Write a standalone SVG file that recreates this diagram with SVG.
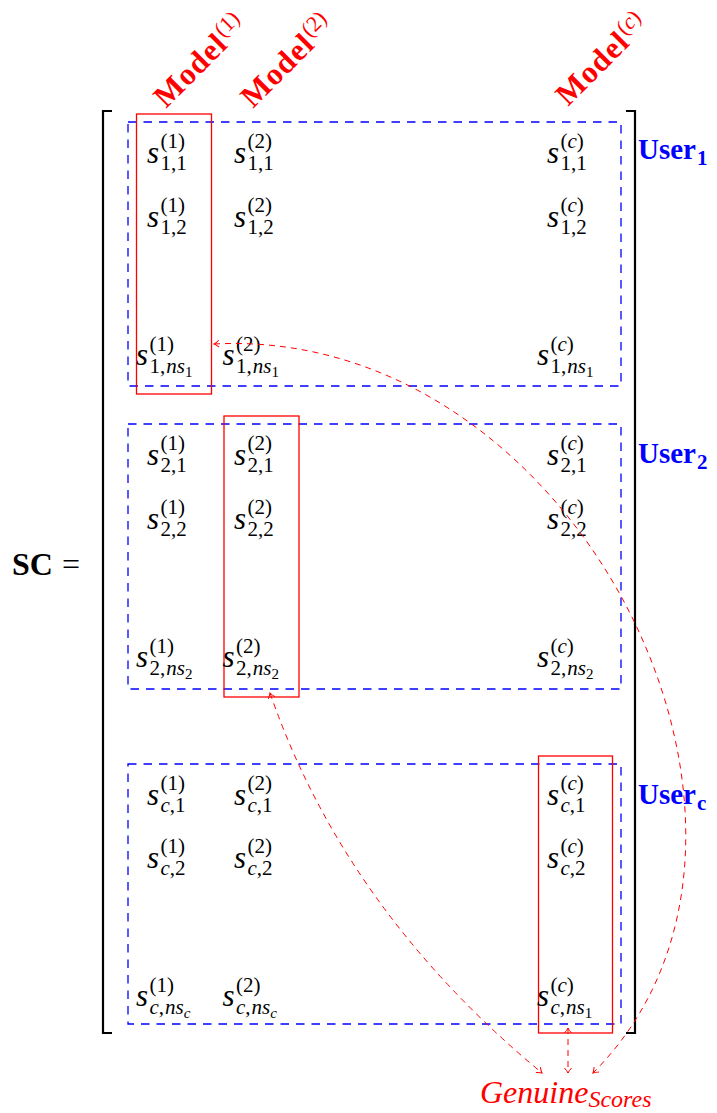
<svg xmlns="http://www.w3.org/2000/svg" width="717" height="1113" viewBox="0 0 717 1113">
<style>
.s{font:italic 31px 'Liberation Serif',serif;fill:#000}
.sc{font:21px 'Liberation Serif',serif;fill:#000}
.i{font-style:italic}
.ss{font-size:15px}
.ub{font:bold 29px 'Liberation Serif',serif;fill:#0000ff}
.ubs{font-size:21px}
.mb{font:bold 31px 'Liberation Serif',serif;fill:#ff0000;letter-spacing:1px}
.ms{font-size:22px;font-weight:normal;letter-spacing:0}
.blue{fill:none;stroke:#0000ff;stroke-width:1.3;stroke-dasharray:8.5 7}
.red{fill:none;stroke:#ff0000;stroke-width:1.3}
.conn{fill:none;stroke:#ff0000;stroke-width:1;stroke-dasharray:6 5}
.br{fill:none;stroke:#000;stroke-width:2.2}
</style>
<defs>
<marker id="ah" viewBox="-7 -5 9 10" markerWidth="9" markerHeight="10" refX="0" refY="0" orient="auto-start-reverse" markerUnits="userSpaceOnUse">
<path d="M-5,-3.5 Q-2,-0.8 0,0 Q-2,0.8 -5,3.5" fill="none" stroke="#ff0000" stroke-width="1" stroke-dasharray="none"/>
</marker>
</defs>
<rect width="717" height="1113" fill="#fff"/>

<g id="sc-label">
<text x="12" y="575" style="font:bold 32px 'Liberation Serif',serif">SC</text>
<text x="62" y="575" style="font:32px 'Liberation Serif',serif">=</text>
</g>

<g id="bracket">
<path class="br" d="M112,111 H103 V1033 H112"/>
<path class="br" d="M626,111 H635 V1033 H626"/>
</g>

<g id="user-boxes">
<rect id="box-user1" class="blue" x="128" y="122" width="493" height="264"/>
<rect id="box-user2" class="blue" x="128" y="424" width="493" height="265"/>
<rect id="box-userc" class="blue" x="128" y="764" width="493" height="260"/>
</g>

<g id="model-boxes">
<rect id="box-model1" class="red" x="136.5" y="114" width="75" height="280"/>
<rect id="box-model2" class="red" x="224" y="416" width="75" height="281"/>
<rect id="box-modelc" class="red" x="538.5" y="756" width="74" height="277"/>
</g>

<g id="model-labels">
<text transform="translate(166,109) rotate(-45)" class="mb">Model<tspan class="ms" dx="1" dy="-10">(1)</tspan></text>
<text transform="translate(253,109) rotate(-45)" class="mb">Model<tspan class="ms" dx="1" dy="-10">(2)</tspan></text>
<text transform="translate(568,107) rotate(-45)" class="mb">Model<tspan class="ms" dx="1" dy="-10">(<tspan class="i">c</tspan>)</tspan></text>
</g>

<g id="user-labels">
<text x="638" y="159" class="ub">User<tspan class="ubs" dx="1" dy="6">1</tspan></text>
<text x="638" y="463" class="ub">User<tspan class="ubs" dx="1" dy="6">2</tspan></text>
<text x="638" y="804" class="ub">User<tspan class="ubs" dx="1" dy="6">c</tspan></text>
</g>

<g id="entries-user1">
<g id="e-1-1-1"><text class="s" x="147" y="163">s</text><text class="sc" x="160.5" y="148">(1)</text><text class="sc" x="160.5" y="170">1,1</text></g>
<g id="e-1-1-2"><text class="s" x="234" y="163">s</text><text class="sc" x="247.5" y="148">(2)</text><text class="sc" x="247.5" y="170">1,1</text></g>
<g id="e-1-1-c"><text class="s" x="547" y="163">s</text><text class="sc" x="560.5" y="148">(<tspan class="i">c</tspan>)</text><text class="sc" x="560.5" y="170">1,1</text></g>
<g id="e-1-2-1"><text class="s" x="147" y="227">s</text><text class="sc" x="160.5" y="212">(1)</text><text class="sc" x="160.5" y="234">1,2</text></g>
<g id="e-1-2-2"><text class="s" x="234" y="227">s</text><text class="sc" x="247.5" y="212">(2)</text><text class="sc" x="247.5" y="234">1,2</text></g>
<g id="e-1-2-c"><text class="s" x="547" y="227">s</text><text class="sc" x="560.5" y="212">(<tspan class="i">c</tspan>)</text><text class="sc" x="560.5" y="234">1,2</text></g>
<g id="e-1-n-1"><text class="s" x="136" y="365">s</text><text class="sc" x="149.5" y="351">(1)</text><text class="sc" x="149.5" y="373">1,<tspan class="i" dx="1">ns</tspan><tspan class="ss" dy="4">1</tspan></text></g>
<g id="e-1-n-2"><text class="s" x="222.5" y="365">s</text><text class="sc" x="236" y="351">(2)</text><text class="sc" x="236" y="373">1,<tspan class="i" dx="1">ns</tspan><tspan class="ss" dy="4">1</tspan></text></g>
<g id="e-1-n-c"><text class="s" x="537" y="365">s</text><text class="sc" x="550.5" y="351">(<tspan class="i">c</tspan>)</text><text class="sc" x="550.5" y="373">1,<tspan class="i" dx="1">ns</tspan><tspan class="ss" dy="4">1</tspan></text></g>
</g>

<g id="entries-user2">
<g id="e-2-1-1"><text class="s" x="147" y="465">s</text><text class="sc" x="160.5" y="450">(1)</text><text class="sc" x="160.5" y="472">2,1</text></g>
<g id="e-2-1-2"><text class="s" x="234" y="465">s</text><text class="sc" x="247.5" y="450">(2)</text><text class="sc" x="247.5" y="472">2,1</text></g>
<g id="e-2-1-c"><text class="s" x="547" y="465">s</text><text class="sc" x="560.5" y="450">(<tspan class="i">c</tspan>)</text><text class="sc" x="560.5" y="472">2,1</text></g>
<g id="e-2-2-1"><text class="s" x="147" y="529">s</text><text class="sc" x="160.5" y="514">(1)</text><text class="sc" x="160.5" y="536">2,2</text></g>
<g id="e-2-2-2"><text class="s" x="234" y="529">s</text><text class="sc" x="247.5" y="514">(2)</text><text class="sc" x="247.5" y="536">2,2</text></g>
<g id="e-2-2-c"><text class="s" x="547" y="529">s</text><text class="sc" x="560.5" y="514">(<tspan class="i">c</tspan>)</text><text class="sc" x="560.5" y="536">2,2</text></g>
<g id="e-2-n-1"><text class="s" x="136" y="667">s</text><text class="sc" x="149.5" y="653">(1)</text><text class="sc" x="149.5" y="675">2,<tspan class="i" dx="1">ns</tspan><tspan class="ss" dy="4">2</tspan></text></g>
<g id="e-2-n-2"><text class="s" x="222.5" y="667">s</text><text class="sc" x="236" y="653">(2)</text><text class="sc" x="236" y="675">2,<tspan class="i" dx="1">ns</tspan><tspan class="ss" dy="4">2</tspan></text></g>
<g id="e-2-n-c"><text class="s" x="537" y="667">s</text><text class="sc" x="550.5" y="653">(<tspan class="i">c</tspan>)</text><text class="sc" x="550.5" y="675">2,<tspan class="i" dx="1">ns</tspan><tspan class="ss" dy="4">2</tspan></text></g>
</g>

<g id="entries-userc">
<g id="e-c-1-1"><text class="s" x="147" y="805">s</text><text class="sc" x="160.5" y="790">(1)</text><text class="sc" x="160.5" y="812"><tspan class="i">c</tspan>,1</text></g>
<g id="e-c-1-2"><text class="s" x="234" y="805">s</text><text class="sc" x="247.5" y="790">(2)</text><text class="sc" x="247.5" y="812"><tspan class="i">c</tspan>,1</text></g>
<g id="e-c-1-c"><text class="s" x="547" y="805">s</text><text class="sc" x="560.5" y="790">(<tspan class="i">c</tspan>)</text><text class="sc" x="560.5" y="812"><tspan class="i">c</tspan>,1</text></g>
<g id="e-c-2-1"><text class="s" x="147" y="868">s</text><text class="sc" x="160.5" y="853">(1)</text><text class="sc" x="160.5" y="875"><tspan class="i">c</tspan>,2</text></g>
<g id="e-c-2-2"><text class="s" x="234" y="868">s</text><text class="sc" x="247.5" y="853">(2)</text><text class="sc" x="247.5" y="875"><tspan class="i">c</tspan>,2</text></g>
<g id="e-c-2-c"><text class="s" x="547" y="868">s</text><text class="sc" x="560.5" y="853">(<tspan class="i">c</tspan>)</text><text class="sc" x="560.5" y="875"><tspan class="i">c</tspan>,2</text></g>
<g id="e-c-n-1"><text class="s" x="136" y="1006">s</text><text class="sc" x="149.5" y="992">(1)</text><text class="sc" x="149.5" y="1014"><tspan class="i">c</tspan>,<tspan class="i" dx="1">ns</tspan><tspan class="ss i" dy="4">c</tspan></text></g>
<g id="e-c-n-2"><text class="s" x="222.5" y="1006">s</text><text class="sc" x="236" y="992">(2)</text><text class="sc" x="236" y="1014"><tspan class="i">c</tspan>,<tspan class="i" dx="1">ns</tspan><tspan class="ss i" dy="4">c</tspan></text></g>
<g id="e-c-n-c"><text class="s" x="537" y="1006">s</text><text class="sc" x="550.5" y="992">(<tspan class="i">c</tspan>)</text><text class="sc" x="550.5" y="1014"><tspan class="i">c</tspan>,<tspan class="i" dx="1">ns</tspan><tspan class="ss" dy="4">1</tspan></text></g>
</g>

<g id="genuine-label">
<text x="480" y="1103" style="font:italic 32px 'Liberation Serif',serif;fill:#ff0000">Genuine<tspan style="font-size:24px" dy="4">Scores</tspan></text>
</g>

<g id="connectors">
<path class="conn" d="M214,344 C580,325 830,836 593,1073" marker-start="url(#ah)" marker-end="url(#ah)"/>
<path class="conn" d="M270,693 Q345,910 542,1073" marker-start="url(#ah)" marker-end="url(#ah)"/>
<path class="conn" d="M568,1028 L568,1073" marker-start="url(#ah)" marker-end="url(#ah)"/>
</g>
</svg>
